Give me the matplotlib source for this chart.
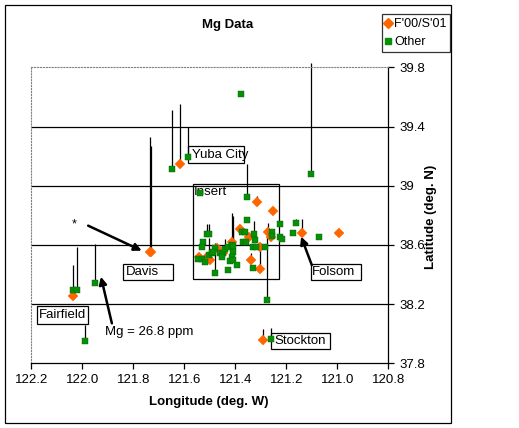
import matplotlib
matplotlib.use("Agg")
import matplotlib.pyplot as plt
from matplotlib.patches import Rectangle
from matplotlib.lines import Line2D

plt.rcParams['font.family'] = ['Liberation Sans', 'DejaVu Sans']

# F'00/S'01 samples: longitude (deg W), latitude (deg N), Mg (ppm)
orange_lon = [122.035, 121.736, 121.732, 121.617, 121.314, 121.253, 121.382, 121.345,
              121.271, 121.261, 121.14, 120.992, 121.339, 121.303, 121.303, 121.413,
              121.473, 121.541, 121.515, 121.499, 121.447, 121.29]
orange_lat = [38.255, 38.55, 38.55, 39.145, 38.892, 38.831, 38.706, 38.656,
              38.689, 38.656, 38.68, 38.68, 38.498, 38.435, 38.588, 38.618,
              38.577, 38.52, 38.51, 38.498, 38.543, 37.957]
orange_mg = [1, 80, 74, 42, 4, 1, 1, 1, 6, 1, 10, 1, 5, 18, 1, 1, 1, 1, 1, 1, 1, 8]

# Other samples
other_lon = [121.99, 122.035, 122.022, 121.95, 121.65, 121.587, 121.379, 121.104,
             121.353, 121.539, 121.353, 121.225, 121.162, 121.173, 121.071, 121.275,
             121.261, 121.225, 121.218, 121.256, 121.257, 121.327, 121.323, 121.332,
             121.319, 121.33, 121.284, 121.375, 121.362, 121.369, 121.358, 121.512,
             121.502, 121.526, 121.532, 121.545, 121.532, 121.519, 121.502, 121.493,
             121.48, 121.46, 121.447, 121.454, 121.44, 121.427, 121.414, 121.408,
             121.408, 121.414, 121.421, 121.408, 121.395, 121.48, 121.428, 121.486]
other_lat = [37.95, 38.296, 38.296, 38.345, 39.111, 39.192, 39.618, 39.081,
             38.922, 38.949, 38.768, 38.739, 38.746, 38.678, 38.656, 38.228,
             37.962, 38.656, 38.638, 38.689, 38.662, 38.672, 38.633, 38.584,
             38.584, 38.442, 38.584, 38.685, 38.685, 38.622, 38.622, 38.672,
             38.672, 38.622, 38.588, 38.503, 38.503, 38.487, 38.532, 38.543,
             38.577, 38.543, 38.543, 38.516, 38.570, 38.584, 38.600, 38.593,
             38.554, 38.520, 38.493, 38.498, 38.464, 38.408, 38.430, 38.554]
other_mg = [11, 17, 30, 26.8, 41, 21, 1, 77, 23, 1, 1, 1, 3, 1, 1, 50,
            8, 1, 1, 1, 1, 9, 1, 1, 1, 1, 1, 1, 1, 1, 1, 7,
            7, 1, 1, 1, 1, 1, 12, 1, 1, 1, 1, 1, 7, 1, 22, 21,
            15, 1, 1, 1, 1, 21, 1, 1]

x_ticks = [122.2, 122.0, 121.8, 121.6, 121.4, 121.2, 121.0, 120.8]
y_ticks = [37.8, 38.2, 38.6, 39.0, 39.4, 39.8]

stem_scale = 0.0097  # deg of latitude per ppm

ORANGE = '#ff6600'
GREEN = '#078f07'

fig = plt.figure(figsize=(5.19, 4.28), dpi=100)
W, H = 519.0, 428.0
ax = fig.add_axes([31.3 / W, 1 - 363.3 / H, 357.0 / W, 296.0 / H])

ax.set_xlim(122.2, 120.8)
ax.set_ylim(37.8, 39.8)

for y in y_ticks[1:-1]:
    ax.axhline(y, color='black', lw=0.9, zorder=1)

# stems
ax.vlines(orange_lon, orange_lat, [la + m * stem_scale for la, m in zip(orange_lat, orange_mg)],
          color='black', lw=0.9, zorder=2, clip_on=False)
ax.vlines(other_lon, other_lat, [la + m * stem_scale for la, m in zip(other_lat, other_mg)],
          color='black', lw=0.9, zorder=2, clip_on=False)

ax.plot(orange_lon, orange_lat, 'D', color=ORANGE, ms=4.6, mec=ORANGE, mew=0.3,
        zorder=3, clip_on=False, label="F'00/S'01")
ax.plot(other_lon, other_lat, 's', color=GREEN, ms=4.0, mec='#006400', mew=0.3,
        zorder=4, clip_on=False, label='Other')

# axes styling
ax.yaxis.tick_right()
ax.spines['left'].set_linestyle(':')
ax.spines['left'].set_color('#808080')
ax.spines['top'].set_linestyle(':')
ax.spines['top'].set_color('#808080')
ax.spines['right'].set_linewidth(0.9)
ax.spines['bottom'].set_linewidth(0.9)
ax.set_xticks(x_ticks)
ax.set_xticklabels(['%.1f' % v for v in x_ticks])
ax.set_yticks(y_ticks)
ax.set_yticklabels(['%g' % v for v in y_ticks])
ax.tick_params(axis='both', direction='out', length=4, width=0.9, labelsize=9.5)
ax.tick_params(axis='x', pad=4)
ax.tick_params(axis='y', pad=4)

# labelled boxes (lon_left, lon_right, lat_bottom, lat_top, text, text_lon)
boxes = [
    (121.584, 121.365, 39.151, 39.270, 'Yuba City', 121.571),
    (121.839, 121.643, 38.361, 38.469, 'Davis', 121.831),
    (122.177, 121.977, 38.066, 38.185, 'Fairfield', 122.169),
    (121.102, 120.906, 38.361, 38.469, 'Folsom', 121.098),
    (121.259, 121.028, 37.895, 38.003, 'Stockton', 121.248),
]
for x0, x1, y0, y1, txt, tx in boxes:
    ax.add_patch(Rectangle((x0, y0), x1 - x0, y1 - y0, fill=False, ec='black',
                           lw=0.9, zorder=2.5))
    ax.text(tx, (y0 + y1) / 2, txt, fontsize=9.5, va='center', ha='left', zorder=2.6)

ax.add_patch(Rectangle((121.567, 38.368), 121.228 - 121.567, 39.010 - 38.368,
                       fill=False, ec='black', lw=0.9, zorder=2.5))
ax.text(121.561, 38.955, 'Insert', fontsize=9.5, va='center', ha='left', zorder=2.6)

ax.text(122.033, 38.735, '*', fontsize=9, ha='center', va='center')
ax.text(121.910, 38.014, 'Mg = 26.8 ppm', fontsize=9.5, ha='left', va='center')

arrow = dict(arrowstyle='-|>', lw=1.8, color='black', mutation_scale=11,
             shrinkA=0, shrinkB=0)
ax.annotate('', xy=(121.767, 38.561), xytext=(121.977, 38.730), arrowprops=arrow)
ax.annotate('', xy=(121.927, 38.385), xytext=(121.884, 38.070), arrowprops=arrow)
ax.annotate('', xy=(121.142, 38.656), xytext=(121.100, 38.464), arrowprops=arrow)

fig.text(227.7 / W, 1 - 25 / H, 'Mg Data', fontsize=9.5, fontweight='bold',
         ha='center', va='center')
fig.text(209 / W, 1 - 401.7 / H, 'Longitude (deg. W)', fontsize=9.5, fontweight='bold',
         ha='center', va='center')
fig.text(430.7 / W, 1 - 216.7 / H, 'Latitude (deg. N)', fontsize=9.5, fontweight='bold',
         ha='center', va='center', rotation=90)

# outer chart frame
fig.patches.append(Rectangle((5.3 / W, 1 - 423.3 / H), 445.4 / W, 418.0 / H,
                             transform=fig.transFigure, fill=False, ec='black', lw=0.9))

handles = [Line2D([], [], marker='D', ls='', color=ORANGE, ms=4.6),
           Line2D([], [], marker='s', ls='', color=GREEN, ms=4.0)]
leg = fig.legend(handles, ["F'00/S'01", 'Other'], loc='upper right',
                 bbox_to_anchor=(450.3 / W, 1 - 14.3 / H), frameon=True, fancybox=False,
                 edgecolor='black', fontsize=9, handlelength=0.4, handletextpad=0.25,
                 borderpad=0.3, labelspacing=0.5, borderaxespad=0)
leg.get_frame().set_linewidth(0.9)

fig.savefig('out.png', dpi=100)
